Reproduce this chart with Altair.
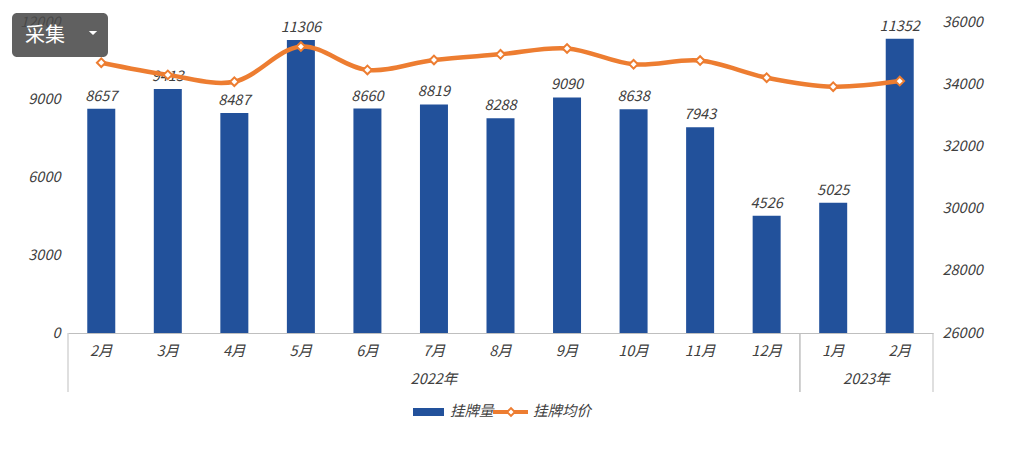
import altair as alt
import pandas as pd

# ---- data ----
months = ["2月", "3月", "4月", "5月", "6月", "7月", "8月", "9月", "10月", "11月", "12月", "1月", "2月"]
years = ["2022年"] * 11 + ["2023年"] * 2
volume = [8657, 9413, 8487, 11306, 8660, 8819, 8288, 9090, 8638, 7943, 4526, 5025, 11352]
price = [34690, 34300, 34080, 35210, 34460, 34780, 34960, 35150, 34640, 34760, 34210, 33920, 34100]
series = ["挂牌量", "挂牌均价"]
left_ticks = [0, 3000, 6000, 9000, 12000]
right_ticks = [26000, 28000, 30000, 32000, 34000, 36000]
button_label = ["采集"]

df = pd.DataFrame({"i": list(range(len(months))), "month": months, "year": years,
                   "volume": volume, "price": price})

W, H = 865, 311
FONT = "Noto Sans CJK SC"
GRAY = "#404040"
BLUE = "#22519B"
ORANGE = "#ED7D31"
LINEGRAY = "#BFBFBF"
FS = 14.5

base = alt.Chart(df)

xq = alt.X("i:Q", scale=alt.Scale(domain=[-0.5, len(months) - 0.5], nice=False, zero=False, padding=0),
           axis=alt.Axis(title=None, labels=False, ticks=False, grid=False,
                         domainColor=LINEGRAY, domainWidth=1))

bars = base.mark_bar(size=28, color=BLUE).encode(
    x=xq,
    y=alt.Y("volume:Q", scale=alt.Scale(domain=[0, 12000], nice=False),
            axis=alt.Axis(title=None, values=left_ticks, format="d", grid=False, domain=False,
                          ticks=False, labelFont=FONT, labelFontStyle="italic", labelFontSize=FS,
                          labelColor=GRAY, labelPadding=8, orient="left")),
)
bar_text = base.mark_text(font=FONT, fontStyle="italic", fontSize=FS, color=GRAY,
                          baseline="alphabetic", dy=-8).encode(
    x="i:Q", y="volume:Q", text=alt.Text("volume:Q", format="d"))

line = base.mark_line(color=ORANGE, strokeWidth=4.5, interpolate="catmull-rom").encode(
    x="i:Q",
    y=alt.Y("price:Q", scale=alt.Scale(domain=[26000, 36000], nice=False, zero=False),
            axis=alt.Axis(title=None, values=right_ticks, format="d", grid=False, domain=False,
                          ticks=False, labelFont=FONT, labelFontStyle="italic", labelFontSize=FS,
                          labelColor=GRAY, labelPadding=9, orient="right")),
)
pts = base.mark_point(shape="diamond", filled=True, fill="white", stroke=ORANGE,
                      strokeWidth=2, size=75, opacity=1).encode(x="i:Q", y="price:Q")

main = alt.layer(alt.layer(bars, bar_text), alt.layer(line, pts)).resolve_scale(y="independent")

# month labels
month_text = base.mark_text(font=FONT, fontStyle="italic", fontSize=FS, color=GRAY,
                            baseline="middle").encode(x="i:Q", y=alt.value(H + 19), text="month:N")

# group separators and year labels
groups = base.transform_aggregate(lo="min(i)", hi="max(i)", center="mean(i)", groupby=["year"]) \
    .transform_calculate(left="datum.lo - 0.5", right="datum.hi + 0.5")
sep_left = groups.mark_rule(color=LINEGRAY, strokeWidth=1).encode(
    x="left:Q", y=alt.value(H), y2=alt.value(H + 59))
sep_right = groups.mark_rule(color=LINEGRAY, strokeWidth=1).encode(
    x="right:Q", y=alt.value(H), y2=alt.value(H + 59))
year_text = groups.mark_text(font=FONT, fontStyle="italic", fontSize=FS, color=GRAY,
                             baseline="middle").encode(x="center:Q", y=alt.value(H + 47), text="year:N")

# legend
leg1 = alt.Chart(pd.DataFrame({"label": [series[0]]}))
leg2 = alt.Chart(pd.DataFrame({"label": [series[1]]}))
leg_rect = leg1.mark_rect(color=BLUE).encode(
    x=alt.value(345), x2=alt.value(376), y=alt.value(386), y2=alt.value(394))
leg_t1 = leg1.mark_text(font=FONT, fontStyle="italic", fontSize=FS, color=GRAY, align="left",
                        baseline="middle").encode(x=alt.value(382), y=alt.value(390), text="label:N")
leg_line = leg2.mark_rule(color=ORANGE, strokeWidth=4).encode(
    x=alt.value(425), x2=alt.value(460), y=alt.value(390))
leg_pt = leg2.mark_point(shape="diamond", filled=True, fill="white", stroke=ORANGE,
                         strokeWidth=2, size=60, opacity=1).encode(x=alt.value(443), y=alt.value(390))
leg_t2 = leg2.mark_text(font=FONT, fontStyle="italic", fontSize=FS, color=GRAY, align="left",
                        baseline="middle").encode(x=alt.value(465), y=alt.value(390), text="label:N")

# overlay button
btn = alt.Chart(pd.DataFrame({"t": button_label}))
btn_rect = btn.mark_rect(color="#4a4a4a", opacity=0.88, cornerRadius=5).encode(
    x=alt.value(-56), x2=alt.value(40), y=alt.value(-9), y2=alt.value(35))
btn_text = btn.mark_text(font=FONT, fontSize=20, color="white", align="left",
                         baseline="middle").encode(x=alt.value(-43), y=alt.value(14), text="t:N")
btn_tri = btn.mark_point(shape="M-1,-0.5L1,-0.5L0,0.5Z", filled=True, color="white",
                         size=70, opacity=1).encode(x=alt.value(25), y=alt.value(11))

chart = alt.layer(
    main, month_text, sep_left, sep_right, year_text,
    leg_rect, leg_t1, leg_line, leg_pt, leg_t2,
    btn_rect, btn_text, btn_tri,
).properties(
    width=W, height=H,
    autosize=alt.AutoSizeParams(type="none"),
    padding={"left": 60, "top": 14, "right": 90, "bottom": 100},
    background="white",
).configure_view(stroke=None)

chart.save("out.html", embed_options={"renderer": "svg", "actions": False})
